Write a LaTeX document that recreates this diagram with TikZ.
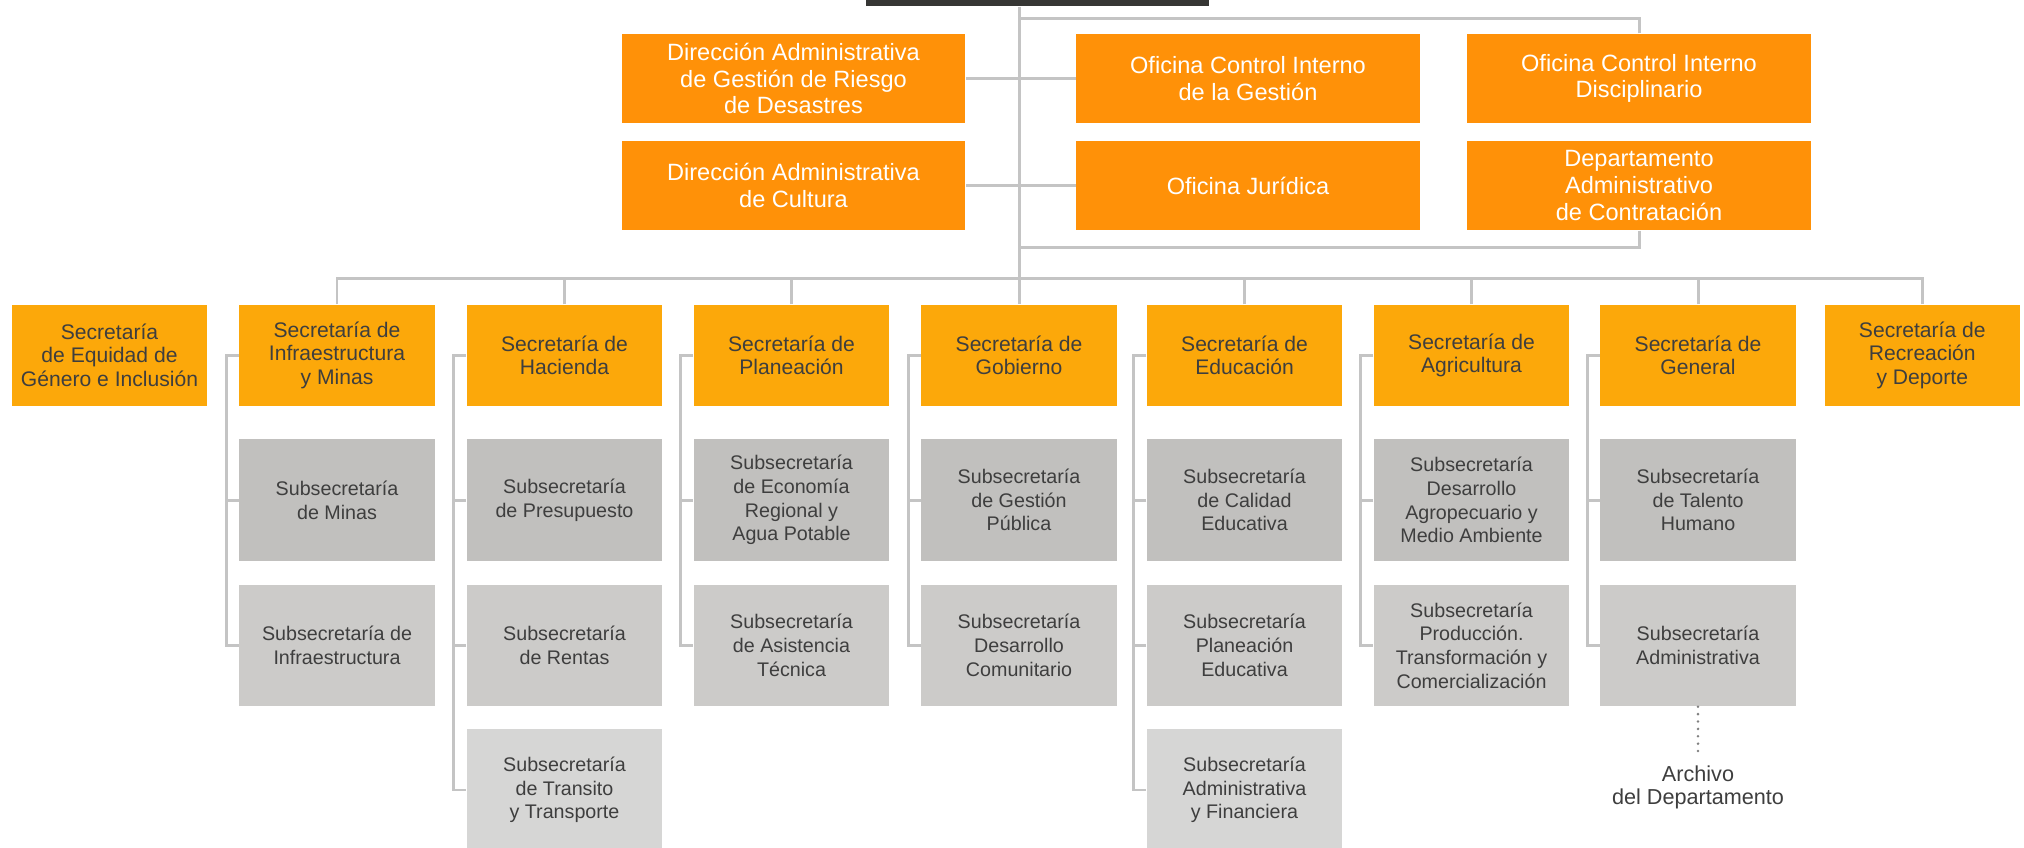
\documentclass[tikz,border=0pt]{standalone}
\usepackage{fontspec}
\setmainfont{Liberation Sans}
\usetikzlibrary{positioning}

\definecolor{dirorange}{RGB}{255,145,8}
\definecolor{secorange}{RGB}{252,168,10}
\definecolor{subA}{RGB}{193,192,190}
\definecolor{subB}{RGB}{204,203,201}
\definecolor{subC}{RGB}{214,214,213}
\definecolor{linegray}{RGB}{196,196,196}
\definecolor{bargray}{RGB}{54,54,52}
\definecolor{textgray}{RGB}{62,62,62}

\tikzset{
  conn/.style={draw=linegray, line width=0.85pt},
  topbox/.style={fill=dirorange, text=white, align=center, inner sep=0pt,
    minimum width=3.43cm, minimum height=0.89cm,
    font=\fontsize{6.7}{7.55}\selectfont},
  secbox/.style={fill=secorange, text=textgray, align=center, inner sep=0pt,
    minimum width=1.95cm, minimum height=1.005cm,
    font=\fontsize{6.0}{6.6}\selectfont},
  subbox/.style={fill=#1, text=textgray, align=center, inner sep=0pt,
    minimum width=1.95cm, minimum height=1.21cm,
    font=\fontsize{5.6}{6.75}\selectfont},
}

\begin{document}
\begin{tikzpicture}[x=0.01cm,y=-0.01cm]
  \useasboundingbox (0,0) rectangle (2024,847);

  % despacho (cortado arriba) y dependencias directas
  \node[fill=bargray, inner sep=0pt, minimum width=3.43cm, minimum height=0.06cm] (gob) at (1037.5,3) {};
  \node[topbox] (d1) at (793.5,78.5) {Dirección Administrativa\\de Gestión de Riesgo\\de Desastres};
  \node[topbox] (d2) at (793.5,185.5) {Dirección Administrativa\\de Cultura};
  \node[topbox] (o1) at (1248,78.5) {Oficina Control Interno\\de la Gestión};
  \node[topbox] (o2) at (1248,185.5) {Oficina Jurídica};
  \node[topbox] (o3) at (1639,78.5) {Oficina Control Interno\\Disciplinario};
  \node[topbox] (o4) at (1639,185.5) {Departamento\\Administrativo\\de Contratación};

  % secretarías
  \node[secbox] (s1) at (109.5,355.25) {Secretaría\\de Equidad de\\Género e Inclusión};
  \node[secbox] (s2) at (337,355.25) {Secretaría de\\Infraestructura\\y Minas};
  \node[secbox] (s3) at (564.5,355.25) {Secretaría de\\Hacienda};
  \node[secbox] (s4) at (791.5,355.25) {Secretaría de\\Planeación};
  \node[secbox] (s5) at (1019,355.25) {Secretaría de\\Gobierno};
  \node[secbox] (s6) at (1244.5,355.25) {Secretaría de\\Educación};
  \node[secbox] (s7) at (1471.5,355.25) {Secretaría de\\Agricultura};
  \node[secbox] (s8) at (1698,355.25) {Secretaría de\\General};
  \node[secbox] (s9) at (1922.3,355.25) {Secretaría de\\Recreación\\y Deporte};

  % subsecretarías
  \node[subbox=subA, below=0.325cm of s2] (s2a) {Subsecretaría\\de Minas};
  \node[subbox=subB, below=0.23cm of s2a] (s2b) {Subsecretaría de\\Infraestructura};

  \node[subbox=subA, below=0.325cm of s3] (s3a) {Subsecretaría\\de Presupuesto};
  \node[subbox=subB, below=0.23cm of s3a] (s3b) {Subsecretaría\\de Rentas};
  \node[subbox=subC, below=0.22cm of s3b] (s3c) {Subsecretaría\\de Transito\\y Transporte};

  \node[subbox=subA, below=0.325cm of s4] (s4a) {Subsecretaría\\de Economía\\Regional y\\Agua Potable};
  \node[subbox=subB, below=0.23cm of s4a] (s4b) {Subsecretaría\\de Asistencia\\Técnica};

  \node[subbox=subA, below=0.325cm of s5] (s5a) {Subsecretaría\\de Gestión\\Pública};
  \node[subbox=subB, below=0.23cm of s5a] (s5b) {Subsecretaría\\Desarrollo\\Comunitario};

  \node[subbox=subA, below=0.325cm of s6] (s6a) {Subsecretaría\\de Calidad\\Educativa};
  \node[subbox=subB, below=0.23cm of s6a] (s6b) {Subsecretaría\\Planeación\\Educativa};
  \node[subbox=subC, below=0.22cm of s6b] (s6c) {Subsecretaría\\Administrativa\\y Financiera};

  \node[subbox=subA, below=0.325cm of s7] (s7a) {Subsecretaría\\Desarrollo\\Agropecuario y\\Medio Ambiente};
  \node[subbox=subB, below=0.23cm of s7a] (s7b) {Subsecretaría\\Producción.\\Transformación y\\Comercialización};

  \node[subbox=subA, below=0.325cm of s8] (s8a) {Subsecretaría\\de Talento\\Humano};
  \node[subbox=subB, below=0.23cm of s8a] (s8b) {Subsecretaría\\Administrativa};

  \node[text=textgray, align=center, inner sep=2pt, font=\fontsize{6.15}{6.55}\selectfont]
    (arch) at (1698,787.5) {Archivo\\del Departamento};

  % líneas de mando
  \draw[conn] (gob.south -| s5.north) -- (s5.north);
  \draw[conn] (o3.north) -- ++(0,-15) -| (s5.north |- gob.south);
  \draw[conn] (o4.south) -- ++(0,16.5) -| (s5.north);
  \draw[conn] (d1) -- (o1);
  \draw[conn] (d2) -- (o2);

  \draw[conn] (s2.north) -- ++(0,-26) -| (s9.north);
  \foreach \k in {3,4,6,7,8}
    \draw[conn] (s\k.north) -- ++(0,-26);

  % corchetes de subsecretarías
  \draw[conn] (s2.west) -- ++(-12.5,0) |- (s2b.west);
  \draw[conn] (s2a.west) -- ++(-12.5,0);
  \draw[conn] (s3.west) -- ++(-12.5,0) |- (s3c.west);
  \draw[conn] (s3a.west) -- ++(-12.5,0);
  \draw[conn] (s3b.west) -- ++(-12.5,0);
  \draw[conn] (s4.west) -- ++(-12.5,0) |- (s4b.west);
  \draw[conn] (s4a.west) -- ++(-12.5,0);
  \draw[conn] (s5.west) -- ++(-12.5,0) |- (s5b.west);
  \draw[conn] (s5a.west) -- ++(-12.5,0);
  \draw[conn] (s6.west) -- ++(-12.5,0) |- (s6c.west);
  \draw[conn] (s6a.west) -- ++(-12.5,0);
  \draw[conn] (s6b.west) -- ++(-12.5,0);
  \draw[conn] (s7.west) -- ++(-12.5,0) |- (s7b.west);
  \draw[conn] (s7a.west) -- ++(-12.5,0);
  \draw[conn] (s8.west) -- ++(-12.5,0) |- (s8b.west);
  \draw[conn] (s8a.west) -- ++(-12.5,0);

  \draw[gray, line width=0.8pt, line cap=round, dash pattern=on 0pt off 2.1pt]
    (s8b.south) -- (arch.north);
\end{tikzpicture}
\end{document}
